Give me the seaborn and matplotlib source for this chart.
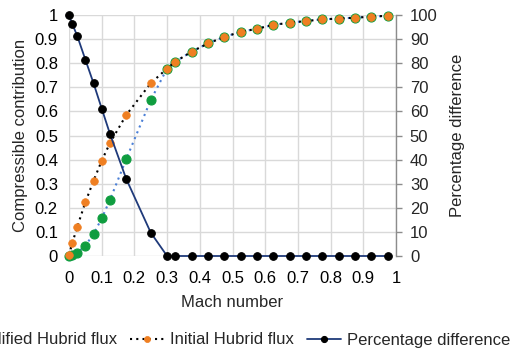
import matplotlib
matplotlib.use("Agg")
import matplotlib.pyplot as plt
import seaborn as sns
import pandas as pd
import numpy as np

mach = [0, 0.01, 0.025, 0.05, 0.075, 0.1, 0.125, 0.175, 0.25, 0.3, 0.325, 0.375,
        0.425, 0.475, 0.525, 0.575, 0.625, 0.675, 0.725, 0.775, 0.825, 0.875, 0.925, 0.975]
modified = [0.0, 0.003, 0.013, 0.043, 0.091, 0.156, 0.232, 0.402, 0.647, 0.778, 0.806, 0.848,
            0.882, 0.909, 0.930, 0.943, 0.959, 0.968, 0.975, 0.982, 0.985, 0.989, 0.993, 0.997]
initial = [0.003, 0.053, 0.12, 0.223, 0.312, 0.395, 0.468, 0.585, 0.717, 0.778, 0.806, 0.848,
           0.882, 0.909, 0.930, 0.943, 0.959, 0.968, 0.975, 0.982, 0.985, 0.989, 0.993, 0.997]
percent = [100, 96.3, 91.4, 81.5, 71.7, 61.2, 50.8, 32, 9.7, 0, 0, 0,
           0, 0, 0, 0, 0, 0, 0, 0, 0, 0, 0, 0]

x_ticks = [0, 0.1, 0.2, 0.3, 0.4, 0.5, 0.6, 0.7, 0.8, 0.9, 1]
x_ticklabels = ["0", "0.1", "0.2", "0.3", "0.4", "0.5", "0.6", "0.7", "0.8", "0.9", "1"]
y_ticks = [0, 0.1, 0.2, 0.3, 0.4, 0.5, 0.6, 0.7, 0.8, 0.9, 1]
y_ticklabels = ["0", "0.1", "0.2", "0.3", "0.4", "0.5", "0.6", "0.7", "0.8", "0.9", "1"]
y2_ticks = [0, 10, 20, 30, 40, 50, 60, 70, 80, 90, 100]

df = pd.DataFrame({"mach": mach, "modified": modified, "initial": initial, "percent": percent})

sns.set_style("white")
plt.rcParams["font.family"] = ["Liberation Sans", "DejaVu Sans"]
FS = 12

fig = plt.figure(figsize=(5.11, 3.54), dpi=100)
ax = fig.add_axes([69/511, 1-256/354, (396-69)/511, (256-15)/354])

green = "#0f9d3f"
orange = "#ef7f22"
blue = "#4a7fd6"
navy = "#1f3a7a"

sns.lineplot(data=df, x="mach", y="modified", ax=ax, color=blue, linestyle=(0, (1, 2)),
             linewidth=1.5, marker="o", markersize=6.5, markerfacecolor=green,
             markeredgecolor=green, markeredgewidth=0.8, label="Modified Hubrid flux", legend=False)
sns.lineplot(data=df, x="mach", y="initial", ax=ax, color="black", linestyle=(0, (1, 2)),
             linewidth=1.5, marker="o", markersize=5.5, markerfacecolor=orange,
             markeredgecolor=orange, markeredgewidth=0.5, label="Initial Hubrid flux", legend=False)

ax.set_xlim(0, 1)
ax.set_ylim(0, 1)
ax.set_xticks(x_ticks)
ax.set_xticklabels(x_ticklabels)
ax.set_yticks(y_ticks)
ax.set_yticklabels(y_ticklabels)
ax.grid(True, color="#d9d9d9", linewidth=1)
ax.set_axisbelow(True)
for s in ax.spines.values():
    s.set_visible(False)
ax.tick_params(axis="x", length=0, labelsize=FS, colors="#000000", pad=11)
ax.tick_params(axis="y", length=0, labelsize=FS, colors="#000000", pad=8)
ax.set_xlabel("Mach number", fontsize=FS, labelpad=6)
ax.set_ylabel("Compressible contribution", fontsize=FS, labelpad=5)

ax2 = ax.twinx()
sns.lineplot(data=df, x="mach", y="percent", ax=ax2, color=navy, linewidth=1.3,
             marker="o", markersize=5.5, markerfacecolor="black", markeredgecolor="black",
             label="Percentage difference", legend=False)
ax2.set_ylim(0, 100)
ax2.set_yticks(y2_ticks)
for s in ["top", "left", "bottom"]:
    ax2.spines[s].set_visible(False)
ax2.spines["right"].set_visible(True)
ax2.spines["right"].set_color("#8c8c8c")
ax2.spines["right"].set_linewidth(1)
ax2.tick_params(axis="y", length=4, width=1, color="#8c8c8c", labelsize=FS, pad=6, right=True, direction="out")
ax2.set_ylabel("Percentage difference", fontsize=FS, labelpad=9)
ax2.grid(False)

for l in ax.get_lines() + ax2.get_lines():
    l.set_clip_on(False)

handles = [ax.get_lines()[0], ax.get_lines()[1], ax2.get_lines()[0]]
labels = ["Modified Hubrid flux", "Initial Hubrid flux", "Percentage difference"]
fig.legend(handles, labels, loc="center", bbox_to_anchor=(0.43, 1-340/354), ncol=3,
           frameon=False, fontsize=FS, handlelength=2.0, handletextpad=0.4,
           columnspacing=0.8, markerscale=0.8)

fig.savefig("out.png", dpi=100)
